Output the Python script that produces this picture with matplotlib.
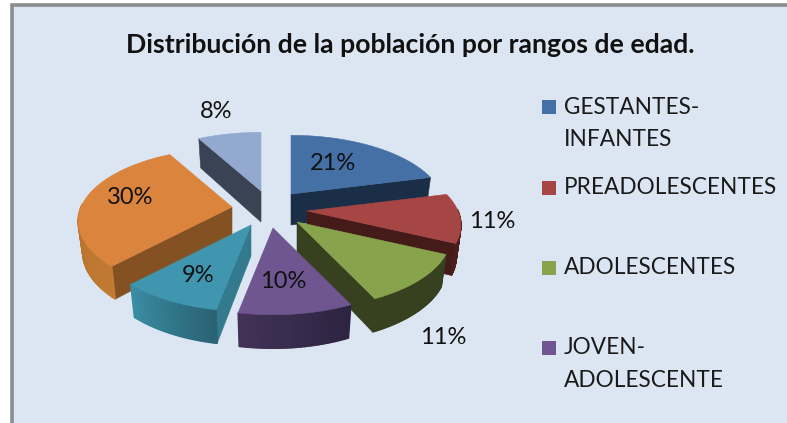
import numpy as np
import matplotlib
matplotlib.use("Agg")
import matplotlib.pyplot as plt
from matplotlib.patches import Rectangle

title = "Distribución de la población por rangos de edad."
values = [21, 11, 11, 10, 9, 30, 8]
legend_labels = ["GESTANTES-\nINFANTES", "PREADOLESCENTES", "ADOLESCENTES", "JOVEN-\nADOLESCENTE"]

# styling / layout
top_colors = ["#4470A5", "#A64644", "#87A44D", "#6F5690", "#3F96AE", "#DB843D", "#93A9CF"]
radial_colors = ["#1B2E48", "#451B1A", "#37411F", "#3A2C4F", "#337A8E", "#845222", "#3A4353"]
outer_start = ["#1B2E48", "#4A1C1B", "#37411F", "#2C2440", "#2A6272", "#C17A32", "#3A4353"]
outer_end = ["#1B2E48", "#4A1C1B", "#37411F", "#423257", "#3A8DA4", "#A8682A", "#3A4353"]
apexes = [(291, 194), (307, 211), (297, 222), (273, 228), (251, 225), (232, 207), (261, 191)]
label_pos = [(333, 163), (492, 221), (443, 338), (283, 282), (198, 276), (130, 198), (216, 111)]
draw_order = [6, 0, 1, 2, 5, 4, 3]
A, B, K = 151.0, 70.0, 0.193
DEPTH, BX, BY = 31.0, 0.97, 1.03
BG = "#DCE6F2"
FONT = "Lato"


def top_pt(apex, u, v):
    w = 1 + K * v
    return apex[0] + A * u / w, apex[1] - B * v / w


def bot_pt(apex, u, v):
    w = 1 + K * v
    return apex[0] + BX * A * u / w, apex[1] - BY * B * v / w + DEPTH


def mix(c1, c2, t):
    a = np.array(matplotlib.colors.to_rgb(c1))
    b = np.array(matplotlib.colors.to_rgb(c2))
    return tuple(a + (b - a) * t)


fig = plt.figure(figsize=(7.87, 4.23), dpi=100, facecolor="white")
ax = fig.add_axes([0, 0, 1, 1])
ax.set_xlim(0, 787)
ax.set_ylim(423, 0)
ax.axis("off")

ax.add_patch(Rectangle((11.5, 5.5), 800, 430, facecolor=BG, edgecolor="#8C8C8C", lw=2.6, zorder=0))

edges = np.cumsum([0] + values) / sum(values) * 2 * np.pi
z = 1


def poly(pts, color, lw=0.4):
    global z
    xs, ys = zip(*pts)
    ax.fill(xs, ys, facecolor=color, edgecolor=color, lw=lw, zorder=z)
    z += 1


for i in draw_order:
    t1, t2 = edges[i], edges[i + 1]
    ap = apexes[i]
    th = np.linspace(t1, t2, 60)
    u, v = np.sin(th), np.cos(th)
    # radial walls that face the viewer
    if np.sin(t2) > 1e-6:
        p = (np.sin(t2), np.cos(t2))
        poly([top_pt(ap, 0, 0), top_pt(ap, *p), bot_pt(ap, *p), bot_pt(ap, 0, 0)], radial_colors[i])
    if np.sin(t1) < -1e-6:
        p = (np.sin(t1), np.cos(t1))
        poly([top_pt(ap, 0, 0), top_pt(ap, *p), bot_pt(ap, *p), bot_pt(ap, 0, 0)], radial_colors[i])
    # outer rim, shaded along the arc
    for j in range(len(th) - 1):
        if v[j] < 0.02 or v[j + 1] < 0.02:
            frac = j / (len(th) - 2)
            poly([top_pt(ap, u[j], v[j]), top_pt(ap, u[j + 1], v[j + 1]),
                  bot_pt(ap, u[j + 1], v[j + 1]), bot_pt(ap, u[j], v[j])],
                 mix(outer_start[i], outer_end[i], frac), lw=1.0)
    # top face
    poly([top_pt(ap, 0, 0)] + [top_pt(ap, a, b) for a, b in zip(u, v)], top_colors[i])

for val, (x, y) in zip(values, label_pos):
    ax.text(x, y, f"{val}%", ha="center", va="center", fontsize=17, family=FONT,
            color="#111111", zorder=5000)

ax.text(410, 45, title, ha="center", va="center", fontsize=19.2, fontweight="bold",
        family=FONT, color="#111111", zorder=5000)

legend_y = [107, 188, 268, 348]
for lab, col, y in zip(legend_labels, top_colors, legend_y):
    ax.add_patch(Rectangle((542, y - 7), 14, 14, facecolor=col, edgecolor="none", zorder=5000))
    for n, line in enumerate(lab.split("\n")):
        ax.text(564, y + n * 32.5, line, ha="left", va="center", fontsize=16.3, family=FONT,
                color="#1A1A1A", zorder=5000)

fig.savefig("out.png", dpi=100, facecolor="white")
